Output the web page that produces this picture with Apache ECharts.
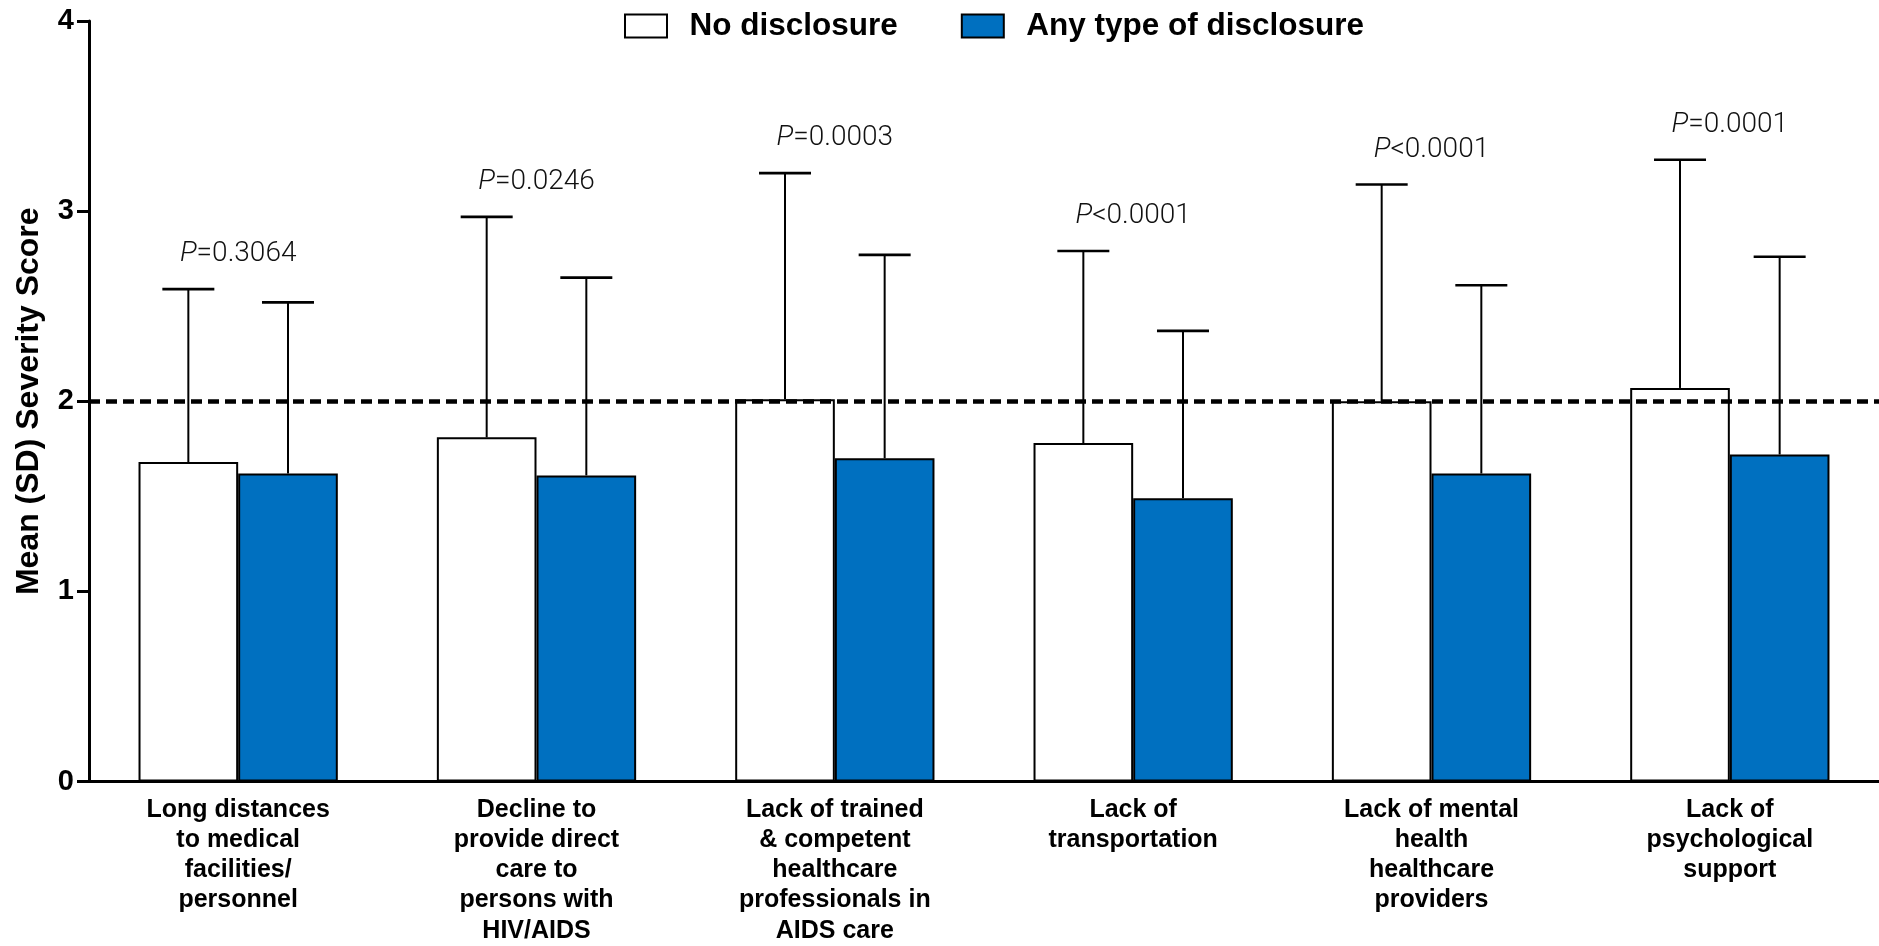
<!DOCTYPE html>
<html>
<head>
<meta charset="utf-8">
<script src="https://cdn.jsdelivr.net/npm/echarts@6/dist/echarts.min.js"></script>
<style>
  html, body { margin: 0; padding: 0; background: #ffffff; }
  #chart { width: 1879px; height: 946px; }
</style>
</head>
<body>
<div id="chart"></div>
<script>
// Barrier categories (x axis)
const categories = [
  'Long distances\nto medical\nfacilities/\npersonnel',
  'Decline to\nprovide direct\ncare to\npersons with\nHIV/AIDS',
  'Lack of trained\n& competent\nhealthcare\nprofessionals in\nAIDS care',
  'Lack of\ntransportation',
  'Lack of mental\nhealth\nhealthcare\nproviders',
  'Lack of\npsychological\nsupport'
];

// Mean severity scores and standard deviations per group
const noDisclosureMean = [1.68, 1.81, 2.01, 1.78, 2.00, 2.07];
const noDisclosureSD   = [0.91, 1.16, 1.19, 1.01, 1.14, 1.20];
const anyDisclosureMean = [1.62, 1.61, 1.70, 1.49, 1.62, 1.72];
const anyDisclosureSD   = [0.90, 1.04, 1.07, 0.88, 0.99, 1.04];

// Comparison p-values shown above each pair
const pRelation = ['=', '=', '=', '<', '<', '='];
const pValues = ['0.3064', '0.0246', '0.0003', '0.0001', '0.0001', '0.0001'];

// Reference threshold line
const thresholdValue = 2;

// Y axis ticks
const yMin = 0, yMax = 4, yStep = 1;

const seriesNames = ['No disclosure', 'Any type of disclosure'];
const BLUE = '#0070c0';
const GAP_RATIO = 0.332;
const FONT = "'Liberation Sans', Arial, sans-serif";

// Upper-only SD whisker with a cap, offset to sit over the matching bar
function errorSeries(means, sds, side) {
  return {
    type: 'custom',
    silent: true,
    z: 3,
    data: means.map((m, i) => [i, m, sds[i]]),
    renderItem: function (params, api) {
      const i = api.value(0), m = api.value(1), sd = api.value(2);
      const band = api.size([1, 0])[0];
      const barW = band * (1 - GAP_RATIO) / 2;
      const base = api.coord([i, m]);
      const top = api.coord([i, m + sd]);
      const x = base[0] + side * barW / 2;
      const capHalf = 26;
      return {
        type: 'group',
        children: [
          { type: 'line', shape: { x1: x, y1: base[1], x2: x, y2: top[1] },
            style: { stroke: '#000', lineWidth: 2 } },
          { type: 'line', shape: { x1: x - capHalf, y1: top[1], x2: x + capHalf, y2: top[1] },
            style: { stroke: '#000', lineWidth: 2.6 } }
        ]
      };
    }
  };
}

// P-value annotations centred above each pair
const pSeries = {
  type: 'custom',
  silent: true,
  z: 4,
  data: categories.map((c, i) => [
    i,
    Math.max(noDisclosureMean[i] + noDisclosureSD[i], anyDisclosureMean[i] + anyDisclosureSD[i])
  ]),
  renderItem: function (params, api) {
    const i = api.value(0);
    const p = api.coord([i, api.value(1)]);
    return {
      type: 'text',
      style: {
        x: p[0],
        y: p[1] - 35,
        text: '{it|P}{tx|' + pRelation[i] + pValues[i] + '}',
        align: 'center',
        verticalAlign: 'middle',
        rich: {
          it: { fontFamily: 'Roboto', fontWeight: 300, fontStyle: 'italic', fontSize: 28, fill: '#111' },
          tx: { fontFamily: 'Roboto', fontWeight: 300, fontSize: 28, fill: '#111' }
        }
      }
    };
  }
};

const chart = echarts.init(document.getElementById('chart'), null, { renderer: 'canvas' });

chart.setOption({
  animation: false,
  backgroundColor: '#ffffff',
  grid: { left: 89, right: -7, top: 21, bottom: 159, containLabel: false },
  legend: {
    data: seriesNames,
    left: 619,
    top: 5,
    itemWidth: 42,
    itemHeight: 23,
    itemGap: 63,
    icon: 'rect',
    textStyle: { fontFamily: FONT, fontWeight: 'bold', fontSize: 31.5, color: '#000', padding: [0, 0, 0, 17.5] }
  },
  xAxis: {
    type: 'category',
    data: categories,
    axisLine: { lineStyle: { color: '#000', width: 3 } },
    axisTick: { show: false },
    axisLabel: {
      interval: 0,
      margin: 13,
      fontFamily: FONT,
      fontWeight: 'bold',
      fontSize: 25,
      lineHeight: 30.3,
      color: '#000',
      align: 'center'
    }
  },
  yAxis: {
    type: 'value',
    min: yMin,
    max: yMax,
    interval: yStep,
    name: 'Mean (SD) Severity Score',
    nameLocation: 'middle',
    nameGap: 44,
    nameTextStyle: { fontFamily: FONT, fontWeight: 'bold', fontSize: 32, color: '#000' },
    axisLine: { show: true, lineStyle: { color: '#000', width: 3 } },
    axisTick: { show: true, length: 12, lineStyle: { color: '#000', width: 3 } },
    axisLabel: { fontFamily: FONT, fontWeight: 'bold', fontSize: 29, color: '#000', margin: 15 },
    splitLine: { show: false }
  },
  series: [
    {
      name: seriesNames[0],
      type: 'bar',
      data: noDisclosureMean,
      barGap: '0%',
      barCategoryGap: (GAP_RATIO * 100) + '%',
      itemStyle: { color: '#ffffff', borderColor: '#000', borderWidth: 2 },
      markLine: {
        silent: true,
        symbol: 'none',
        label: { show: false },
        lineStyle: { color: '#000', width: 4.5, type: [11, 6] },
        data: [{ yAxis: thresholdValue }]
      }
    },
    {
      name: seriesNames[1],
      type: 'bar',
      data: anyDisclosureMean,
      barGap: '0%',
      barCategoryGap: (GAP_RATIO * 100) + '%',
      itemStyle: { color: BLUE, borderColor: '#000', borderWidth: 2 }
    },
    errorSeries(noDisclosureMean, noDisclosureSD, -1),
    errorSeries(anyDisclosureMean, anyDisclosureSD, 1),
    pSeries
  ]
});
</script>
</body>
</html>
